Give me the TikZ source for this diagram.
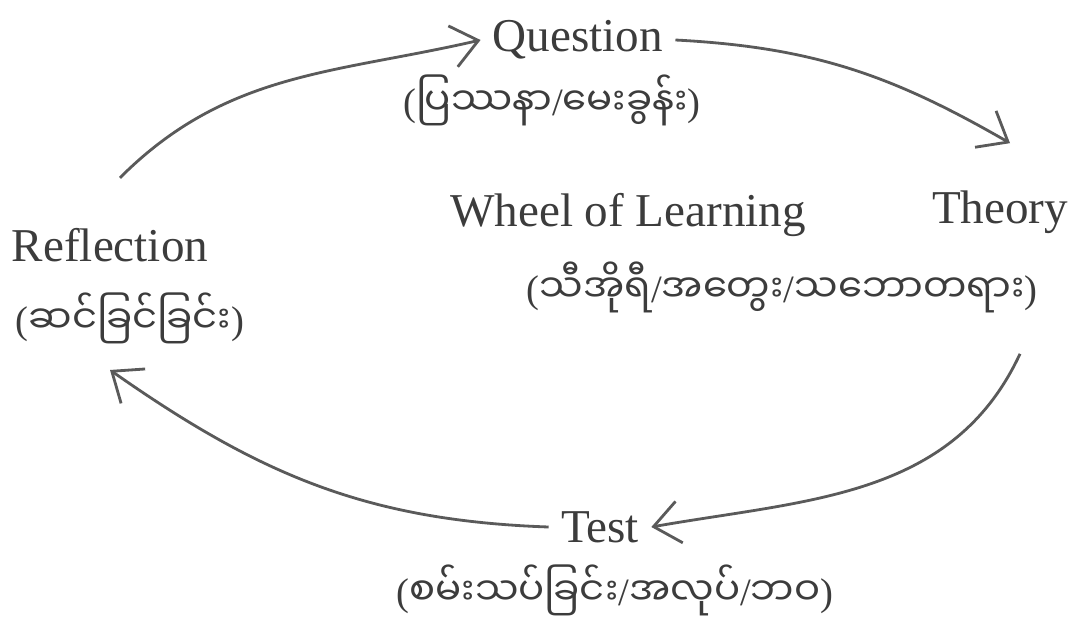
\documentclass[tikz,border=0pt]{standalone}
\usepackage{fontspec}
\setmainfont{Liberation Serif}
\newfontfamily\mmfont[Script=Myanmar]{Noto Sans Myanmar UI}
\usetikzlibrary{arrows.meta}
\definecolor{inkgray}{RGB}{60, 60, 60}
\definecolor{linegray}{RGB}{90, 90, 90}
% signos que la fuente birmana no tiene
\newcommand{\mlp}{{\normalfont(}}
\newcommand{\mrp}{{\normalfont)}}
\newcommand{\msl}{{\normalfont/}}

\begin{document}
\begin{tikzpicture}[
    lbl/.style={text=inkgray, font=\fontsize{13.4}{16}\selectfont},
    mmlbl/.style={text=inkgray, font=\mmfont\fontsize{11}{14}\selectfont},
    cyc/.style={draw=linegray, line width=0.8pt, -{Straight Barb[length=2.6mm, width=4.2mm]}}
  ]
    \useasboundingbox (0, 0) rectangle (10.72, 6.2);

    % Etiquetas
    \node[lbl] (quest) at (5.78, 5.80) {Question};
    \node[mmlbl] (questmm) at (5.52, 5.20) {\mlp ပြဿနာ\msl မေးခွန်း\mrp};
    \node[lbl] (wheel) at (6.28, 4.05) {Wheel of Learning};
    \node[lbl] (theory) at (10.0, 4.08) {Theory};
    \node[mmlbl] (theorymm) at (7.82, 3.33) {\mlp သီအိုရီ\msl အတွေး\msl သဘောတရား\mrp};
    \node[lbl] (refl) at (1.10, 3.75) {Reflection};
    \node[mmlbl] (reflmm) at (1.30, 3.02) {\mlp ဆင်ခြင်ခြင်း\mrp};
    \node[lbl] (test) at (6.00, 0.93) {Test};
    \node[mmlbl] (testmm) at (6.15, 0.30) {\mlp စမ်းသပ်ခြင်း\msl အလုပ်\msl ဘဝ\mrp};

    % Ciclo
    \draw[cyc] ([shift={(0.1, 0.38)}]refl.north) to[out=45, in=193] (quest.west);
    \draw[cyc] (quest.east) to[out=-3, in=150] ([shift={(0.1, 0.35)}]theory.north);
    \draw[cyc] ([shift={(0.2, -1.08)}]theory.south) to[out=-115, in=10] (test.east);
    \draw[cyc] (test.west) to[out=178, in=-35] ([shift={(-0.2, -0.14)}]reflmm.south);
\end{tikzpicture}
\end{document}
